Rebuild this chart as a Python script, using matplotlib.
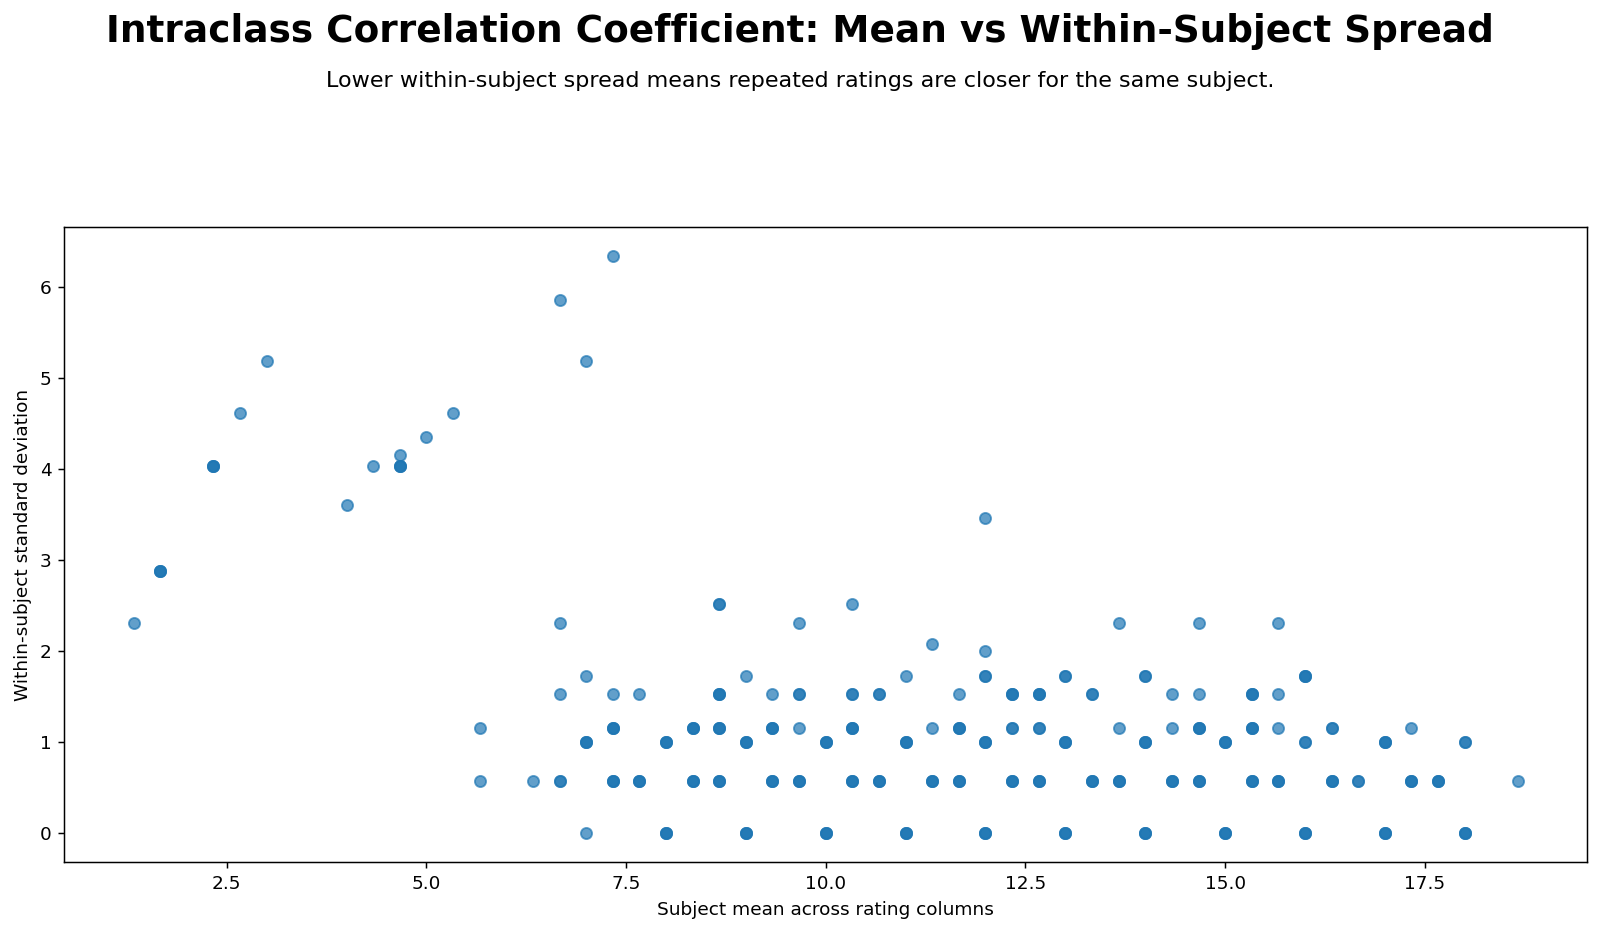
import matplotlib
matplotlib.use("Agg")
import matplotlib.pyplot as plt
import numpy as np

# unique (mean, sd) pairs seen in the chart and how many subjects sit on each
subject_mean = [
    1.333, 1.667, 2.333, 2.667, 3.000, 4.000, 4.333, 4.667, 4.667, 5.000,
    5.333, 6.667, 7.000, 7.333, 12.000,
    5.667, 5.667, 6.333, 6.667, 6.667, 6.667,
    7.000, 7.000, 7.000, 7.333, 7.333, 7.333, 7.667, 7.667,
    8.000, 8.000, 8.333, 8.333, 8.667, 8.667, 8.667, 8.667,
    9.000, 9.000, 9.000, 9.333, 9.333, 9.333,
    9.667, 9.667, 9.667, 9.667, 10.000, 10.000,
    10.333, 10.333, 10.333, 10.333, 10.667, 10.667,
    11.000, 11.000, 11.000, 11.333, 11.333, 11.333,
    11.667, 11.667, 11.667, 12.000, 12.000, 12.000, 12.000,
    12.333, 12.333, 12.333, 12.667, 12.667, 12.667,
    13.000, 13.000, 13.000, 13.333, 13.333,
    13.667, 13.667, 13.667, 14.000, 14.000, 14.000,
    14.333, 14.333, 14.333, 14.667, 14.667, 14.667, 14.667,
    15.000, 15.000, 15.333, 15.333, 15.333,
    15.667, 15.667, 15.667, 15.667, 16.000, 16.000, 16.000,
    16.333, 16.333, 16.667, 17.000, 17.000, 17.333, 17.333,
    17.667, 18.000, 18.000, 18.667,
]
within_sd = [
    2.309, 2.887, 4.041, 4.619, 5.196, 3.606, 4.041, 4.163, 4.041, 4.359,
    4.619, 5.859, 5.196, 6.351, 3.464,
    1.155, 0.577, 0.577, 2.309, 1.528, 0.577,
    1.732, 1.000, 0.000, 1.528, 1.155, 0.577, 1.528, 0.577,
    1.000, 0.000, 1.155, 0.577, 2.517, 1.528, 1.155, 0.577,
    1.732, 1.000, 0.000, 1.528, 1.155, 0.577,
    2.309, 1.528, 1.155, 0.577, 1.000, 0.000,
    2.517, 1.528, 1.155, 0.577, 1.528, 0.577,
    1.732, 1.000, 0.000, 2.082, 1.155, 0.577,
    1.528, 1.155, 0.577, 2.000, 1.732, 1.000, 0.000,
    1.528, 1.155, 0.577, 1.528, 1.155, 0.577,
    1.732, 1.000, 0.000, 1.528, 0.577,
    2.309, 1.155, 0.577, 1.732, 1.000, 0.000,
    1.528, 1.155, 0.577, 2.309, 1.528, 1.155, 0.577,
    1.000, 0.000, 1.528, 1.155, 0.577,
    2.309, 1.528, 1.155, 0.577, 1.732, 1.000, 0.000,
    1.155, 0.577, 0.577, 1.000, 0.000, 1.155, 0.577,
    0.577, 1.000, 0.000, 0.577,
]
n_subjects = [
    1, 3, 3, 1, 1, 1, 1, 1, 3, 1,
    1, 1, 1, 1, 1,
    1, 1, 1, 1, 1, 2,
    1, 3, 1, 1, 3, 3, 1, 3,
    3, 3, 3, 3, 2, 3, 3, 3,
    1, 3, 3, 1, 3, 3,
    1, 2, 1, 3, 3, 3,
    1, 2, 3, 3, 2, 3,
    1, 3, 3, 1, 1, 3,
    1, 3, 3, 1, 2, 3, 3,
    3, 2, 3, 3, 2, 3,
    2, 3, 3, 2, 3,
    1, 1, 3, 2, 3, 3,
    1, 1, 3, 1, 1, 3, 3,
    3, 3, 3, 3, 3,
    1, 1, 1, 3, 3, 2, 3,
    2, 3, 2, 3, 3, 1, 3,
    3, 2, 3, 1,
]

x = np.repeat(subject_mean, n_subjects)
y = np.repeat(within_sd, n_subjects)

dpi = 1600 / 12
fig = plt.figure(figsize=(12, 932 / dpi), dpi=dpi)
ax = fig.add_subplot(111)
fig.subplots_adjust(left=0.0402, right=0.992, top=0.7568, bottom=0.0748)

ax.scatter(x, y, alpha=0.7)
ax.set_xlabel("Subject mean across rating columns")
ax.set_ylabel("Within-subject standard deviation")

fig.text(0.5, 1 - 31 / 932, "Intraclass Correlation Coefficient: Mean vs Within-Subject Spread",
         ha="center", va="center", fontsize=20.2, fontweight="bold")
fig.text(0.5, 1 - 81 / 932, "Lower within-subject spread means repeated ratings are closer for the same subject.",
         ha="center", va="center", fontsize=12)

fig.savefig("out.png", dpi=dpi)
